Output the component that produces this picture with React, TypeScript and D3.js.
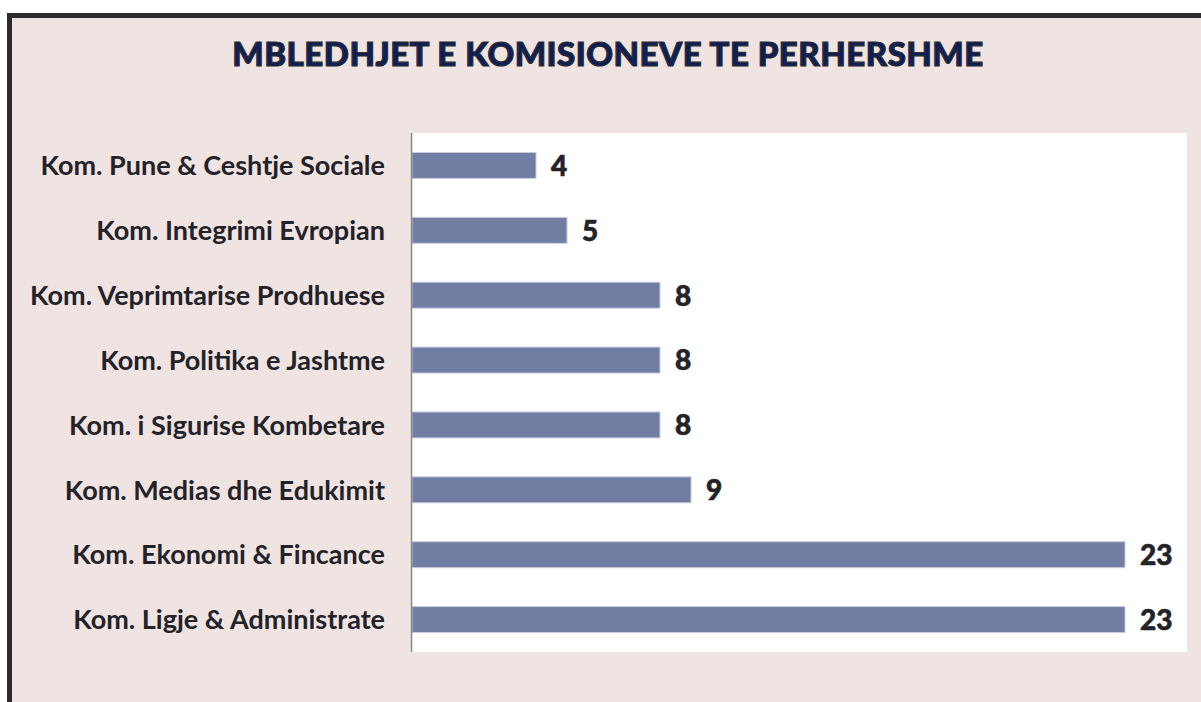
import React from "react";
import * as d3 from "d3";

const categories = [
  "Kom. Pune & Ceshtje Sociale",
  "Kom. Integrimi Evropian",
  "Kom. Veprimtarise Prodhuese",
  "Kom. Politika e Jashtme",
  "Kom. i Sigurise Kombetare",
  "Kom. Medias dhe Edukimit",
  "Kom. Ekonomi & Fincance",
  "Kom. Ligje & Administrate",
];
const values = [4, 5, 8, 8, 8, 9, 23, 23];
const title = "MBLEDHJET E KOMISIONEVE TE PERHERSHME";

const W = 1201;
const H = 702;
const plot = { left: 412, right: 1187, top: 133, bottom: 652 };

export default function App() {
  const x = d3.scaleLinear().domain([0, 1]).range([0, 31]);
  const y = d3
    .scaleBand<string>()
    .domain(categories)
    .range([plot.top, plot.bottom])
    .paddingInner(0.6)
    .paddingOuter(0.3);

  const font = "Lato, 'DejaVu Sans', sans-serif";
  return (
    <div style={{ position: "absolute", left: 0, top: 0 }}>
      <svg width={W} height={H} style={{ display: "block" }}>
        <rect x={0} y={0} width={W} height={H} fill="#ffffff" />
        <rect x={7} y={13} width={W - 7} height={H - 13} fill="#f0e4e2" />
        <line x1={9.5} y1={13} x2={9.5} y2={H} stroke="#2b2a2f" strokeWidth={5} />
        <line x1={7} y1={15.5} x2={W} y2={15.5} stroke="#2b2a2f" strokeWidth={5} />
        <text
          x={608}
          y={66}
          textAnchor="middle"
          fontFamily={font}
          fontWeight={900}
          fontSize={33}
          fill="#0f1f55"
          stroke="#2b2a2f"
          strokeWidth={1.2}
          letterSpacing={0.5}
        >
          {title}
        </text>
        <rect
          x={plot.left}
          y={plot.top}
          width={plot.right - plot.left}
          height={plot.bottom - plot.top}
          fill="#ffffff"
        />
        {categories.map((c, i) => {
          const yy = y(c)!;
          const bw = x(values[i]);
          const cy = yy + y.bandwidth() / 2;
          return (
            <g key={c}>
              <rect
                x={plot.left}
                y={yy}
                width={bw}
                height={y.bandwidth()}
                fill="#717da3"
                stroke="#c9cde0"
                strokeWidth={1}
              />
              <text
                x={385}
                y={cy}
                dy="0.36em"
                textAnchor="end"
                fontFamily={font}
                fontWeight={700}
                fontSize={27}
                fill="#232228"
              >
                {c}
              </text>
              <text
                x={plot.left + bw + 15}
                y={cy}
                dy="0.37em"
                fontFamily={font}
                fontWeight={900}
                fontSize={28}
                fill="#232228"
                stroke="#232228"
                strokeWidth={0.6}
              >
                {values[i]}
              </text>
            </g>
          );
        })}
        <line
          x1={plot.left - 0.5}
          y1={plot.top}
          x2={plot.left - 0.5}
          y2={plot.bottom}
          stroke="#8a8688"
          strokeWidth={1.5}
        />
      </svg>
    </div>
  );
}
